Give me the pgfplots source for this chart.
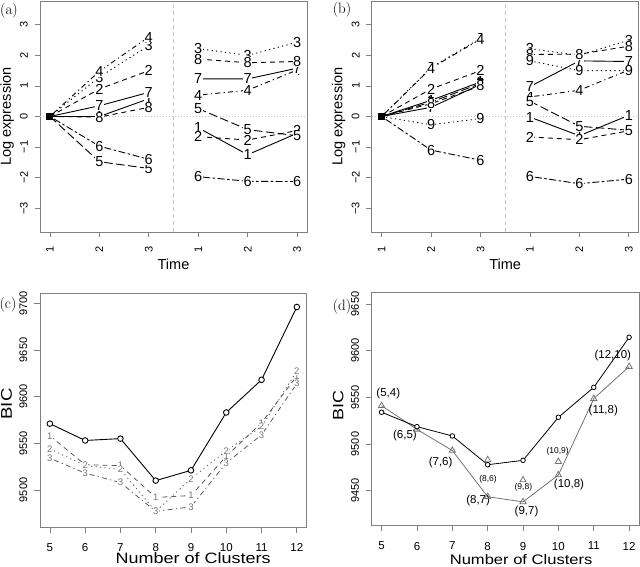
\documentclass[border=0pt]{standalone}
\usepackage{pgfplots}
\pgfplotsset{compat=1.18}
\usepackage{fontspec}
\newfontfamily\rsans{Liberation Sans}
\newfontfamily\rsansw[FakeStretch=1.2]{Liberation Sans}
\definecolor{boxc}{gray}{0.5}
\definecolor{refc}{gray}{0.78}
\pgfplotsset{
  lA/.style={solid},
  lB/.style={dash pattern=on 5pt off 4pt},
  lC/.style={dash pattern=on 1.2pt off 3.3pt},
  lD/.style={dash pattern=on 1.2pt off 3.3pt on 5pt off 3.3pt},
  lE/.style={dash pattern=on 8.5pt off 3.5pt},
  lF/.style={dash pattern=on 2.5pt off 2.5pt on 7pt off 2.5pt},
  rbase/.style={
    scale only axis,
    tick align=outside, tick pos=left,
    major tick length=5.5pt,
    axis line style={draw=boxc, line width=0.7pt},
    every tick/.style={draw=boxc, line width=0.7pt},
    /pgf/number format/assume math mode=true,
    clip=false,
  },
  timeaxis/.style={
    rbase,
    width=267pt, height=231pt,
    xmin=0.8, xmax=6.2, ymin=-3.78, ymax=3.78,
    xtick={1,2,3,4,5,6}, xticklabels={1,2,3,1,2,3},
    ytick={-3,-2,-1,0,1,2,3}, yticklabels={−3,−2,−1,0,1,2,3},
    xticklabel style={rotate=90, anchor=east, inner sep=0pt, font=\rsans\fontsize{11}{11}\selectfont},
    yticklabel style={rotate=90, anchor=south, inner sep=0pt, font=\rsans\fontsize{11}{11}\selectfont},
    xticklabel shift=9pt, yticklabel shift=6.5pt,
    xlabel={Time}, ylabel={Log expression},
    xlabel style={at={(axis description cs:0.5,-0.1385)}, anchor=center, font=\rsans\fontsize{14.5}{14.5}\selectfont},
    ylabel style={at={(axis description cs:-0.1235,0.5)}, anchor=center, font=\rsans\fontsize{14.5}{14.5}\selectfont},
    text mark as node=true,
    text mark style={font=\rsans\fontsize{14.5}{14.5}\selectfont, fill=white, inner sep=0.3pt},
    every axis plot/.append style={line width=0.9pt, black},
  },
  bicaxis/.style={
    rbase,
    xmin=4.72, xmax=12.28,
    xtick={5,6,7,8,9,10,11,12},
    xticklabel style={anchor=north, inner sep=0pt, font=\rsans\fontsize{11.5}{11.5}\selectfont},
    yticklabel style={rotate=90, anchor=south, inner sep=0pt, font=\rsans\fontsize{11}{11}\selectfont},
    xticklabel shift=10.5pt, yticklabel shift=6.5pt,
    major tick length=6pt,
    xlabel={Number of Clusters}, ylabel={BIC},
  },
}
\begin{document}
\begin{tikzpicture}
\path[use as bounding box] (0,0) rectangle (640pt,567pt);

% ---------------- (a) ----------------
\begin{axis}[timeaxis, at={(40pt,335pt)}, anchor=south west]
\addplot[refc, line width=0.6pt, dash pattern=on 1pt off 2pt] coordinates {(0.8,0) (6.2,0)};
\addplot[refc, line width=0.6pt, dash pattern=on 4pt off 3pt] coordinates {(3.5,-3.78) (3.5,3.78)};
% left block
\addplot[lA, mark=text, text mark={1}, mark indices={2,3}] coordinates {(1,0) (2,0.0) (3,0.58)};
\addplot[lB, mark=text, text mark={2}, mark indices={2,3}] coordinates {(1,0) (2,0.9) (3,1.5)};
\addplot[lC, mark=text, text mark={3}, mark indices={2,3}] coordinates {(1,0) (2,1.29) (3,2.32)};
\addplot[lD, mark=text, text mark={4}, mark indices={2,3}] coordinates {(1,0) (2,1.48) (3,2.6)};
\addplot[lE, mark=text, text mark={5}, mark indices={2,3}] coordinates {(1,0) (2,-1.48) (3,-1.7)};
\addplot[lF, mark=text, text mark={6}, mark indices={2,3}] coordinates {(1,0) (2,-0.97) (3,-1.4)};
\addplot[lA, mark=text, text mark={7}, mark indices={2,3}] coordinates {(1,0) (2,0.35) (3,0.79)};
\addplot[lB, mark=text, text mark={8}, mark indices={2,3}] coordinates {(1,0) (2,-0.02) (3,0.3)};
\addplot[only marks, mark=square*, mark size=3pt] coordinates {(1,0)};
% right block
\addplot[lA, mark=text, text mark={1}] coordinates {(4,-0.37) (5,-1.25) (6,-0.55)};
\addplot[lB, mark=text, text mark={2}] coordinates {(4,-0.66) (5,-0.77) (6,-0.46)};
\addplot[lC, mark=text, text mark={3}] coordinates {(4,2.22) (5,2.0) (6,2.43)};
\addplot[lD, mark=text, text mark={4}] coordinates {(4,0.7) (5,0.86) (6,1.52)};
\addplot[lE, mark=text, text mark={5}] coordinates {(4,0.26) (5,-0.43) (6,-0.63)};
\addplot[lF, mark=text, text mark={6}] coordinates {(4,-1.97) (5,-2.12) (6,-2.13)};
\addplot[lA, mark=text, text mark={7}] coordinates {(4,1.23) (5,1.23) (6,1.58)};
\addplot[lB, mark=text, text mark={8}] coordinates {(4,1.88) (5,1.76) (6,1.8)};
\end{axis}

% ---------------- (b) ----------------
\begin{axis}[timeaxis, at={(371.7pt,335pt)}, anchor=south west]
\addplot[refc, line width=0.6pt, dash pattern=on 1pt off 2pt] coordinates {(0.8,0) (6.2,0)};
\addplot[refc, line width=0.6pt, dash pattern=on 4pt off 3pt] coordinates {(3.5,-3.78) (3.5,3.78)};
% left block
\addplot[lA, mark=text, text mark={1}, mark indices={2,3}] coordinates {(1,0) (2,0.53) (3,1.13)};
\addplot[lB, mark=text, text mark={2}, mark indices={2,3}] coordinates {(1,0) (2,0.9) (3,1.5)};
\addplot[lC, mark=text, text mark={3}, mark indices={2,3}] coordinates {(1,0) (2,1.6) (3,2.56)};
\addplot[lD, mark=text, text mark={4}, mark indices={2,3}] coordinates {(1,0) (2,1.58) (3,2.53)};
\addplot[lE, mark=text, text mark={5}, mark indices={2,3}] coordinates {(1,0) (2,0.47) (3,1.08)};
\addplot[lF, mark=text, text mark={6}, mark indices={2,3}] coordinates {(1,0) (2,-1.1) (3,-1.43)};
\addplot[lA, mark=text, text mark={7}, mark indices={2,3}] coordinates {(1,0) (2,0.3) (3,1.05)};
\addplot[lB, mark=text, text mark={8}, mark indices={2,3}] coordinates {(1,0) (2,0.42) (3,1.0)};
\addplot[lC, mark=text, text mark={9}, mark indices={2,3}] coordinates {(1,0) (2,-0.27) (3,-0.07)};
\addplot[only marks, mark=square*, mark size=3pt] coordinates {(1,0)};
% right block
\addplot[lA, mark=text, text mark={1}] coordinates {(4,-0.02) (5,-0.63) (6,0.04)};
\addplot[lB, mark=text, text mark={2}] coordinates {(4,-0.67) (5,-0.76) (6,-0.47)};
\addplot[lC, mark=text, text mark={3}] coordinates {(4,2.22) (5,2.0) (6,2.5)};
\addplot[lD, mark=text, text mark={4}] coordinates {(4,0.64) (5,0.86) (6,1.52)};
\addplot[lE, mark=text, text mark={5}] coordinates {(4,0.5) (5,-0.32) (6,-0.45)};
\addplot[lF, mark=text, text mark={6}] coordinates {(4,-1.96) (5,-2.2) (6,-2.05)};
\addplot[lA, mark=text, text mark={7}] coordinates {(4,0.98) (5,1.82) (6,1.8)};
\addplot[lB, mark=text, text mark={8}] coordinates {(4,2.03) (5,2.04) (6,2.3)};
\addplot[lC, mark=text, text mark={9}] coordinates {(4,1.82) (5,1.5) (6,1.5)};
\end{axis}

% ---------------- (c) ----------------
\begin{axis}[bicaxis, at={(40pt,40pt)}, anchor=south west,
  width=266.7pt, height=234pt,
  ymin=9460.3, ymax=9711,
  ytick={9500,9550,9600,9650,9700}, yticklabels={9500,9550,9600,9650,9700},
  xlabel style={at={(axis description cs:0.574,-0.158)}, anchor=base, font=\rsansw\fontsize{15}{15}\selectfont},
  ylabel style={at={(axis description cs:-0.125,0.526)}, anchor=center, font=\rsansw\fontsize{15.5}{15.5}\selectfont},
  text mark as node=true,
  text mark style={font=\rsans\fontsize{9.5}{9.5}\selectfont, text=black!55, fill=white, inner sep=0.3pt},
]
\addplot[black!65, line width=0.8pt, lB, mark=text, text mark={1}] coordinates {(5,9558) (6,9527) (7,9526) (8,9492) (9,9494) (10,9536) (11,9572) (12,9622)};
\addplot[black!65, line width=0.8pt, lC, mark=text, text mark={2}] coordinates {(5,9544) (6,9526) (7,9522) (8,9477) (9,9512) (10,9542) (11,9568) (12,9627)};
\addplot[black!65, line width=0.8pt, lD, mark=text, text mark={3}] coordinates {(5,9534) (6,9518) (7,9508) (8,9477) (9,9482) (10,9529) (11,9559) (12,9614)};
\addplot[black, line width=0.9pt, mark=*, mark size=2.8pt, mark options={solid, fill=white, line width=0.9pt}] coordinates {(5,9571) (6,9553) (7,9555) (8,9510) (9,9521) (10,9583) (11,9618) (12,9696)};
\end{axis}

% ---------------- (d) ----------------
\begin{axis}[bicaxis, at={(371.7pt,41.7pt)}, anchor=south west,
  width=267.3pt, height=232.6pt,
  ymin=9412.9, ymax=9662.1,
  ytick={9450,9500,9550,9600,9650}, yticklabels={9450,9500,9550,9600,9650},
  xlabel style={at={(axis description cs:0.559,-0.1664)}, anchor=base, font=\rsansw\fontsize{13.8}{13.8}\selectfont},
  ylabel style={at={(axis description cs:-0.125,0.513)}, anchor=center, font=\rsansw\fontsize{15}{15}\selectfont},
]
\addplot[black!55, line width=0.8pt, mark=triangle, mark size=3.6pt, mark options={solid, fill=white, line width=0.8pt}] coordinates {(5,9541) (6,9515.7) (7,9493) (8,9443.5) (9,9438) (10,9466.8) (11,9548.6) (12,9582.9)};
\addplot[black!55, only marks, mark=triangle, mark size=3.6pt, mark options={line width=0.8pt}] coordinates {(8,9483) (9,9461.4) (10,9481)};
\addplot[black, line width=0.8pt, mark=*, mark size=2.3pt, mark options={solid, fill=white, line width=0.8pt}] coordinates {(5,9534) (6,9518.6) (7,9508.6) (8,9477.8) (9,9482.5) (10,9528.6) (11,9560.7) (12,9614.3)};
\begin{scope}[every node/.style={font=\rsans\fontsize{11.5}{11.5}\selectfont, inner sep=0pt}]
\node at (axis cs:5.19,9554.3) {(5,4)};
\node at (axis cs:5.66,9509.3) {(6,5)};
\node at (axis cs:6.67,9480.4) {(7,6)};
\node at (axis cs:7.73,9439) {(8,7)};
\node at (axis cs:9.1,9427.5) {(9,7)};
\node at (axis cs:10.3,9456.8) {(10,8)};
\node at (axis cs:11.27,9535.7) {(11,8)};
\node at (axis cs:11.54,9594.3) {(12,10)};
\end{scope}
\begin{scope}[every node/.style={font=\rsans\fontsize{8.5}{8.5}\selectfont, inner sep=0pt}]
\node at (axis cs:8.01,9462.5) {(8,6)};
\node at (axis cs:9.01,9453.6) {(9,8)};
\node at (axis cs:9.98,9492.5) {(10,9)};
\end{scope}
\end{axis}

% panel letters
\node[font=\fontsize{15}{15}\selectfont, inner sep=0pt] at (9pt,556pt) {(a)};
\node[font=\fontsize{15}{15}\selectfont, inner sep=0pt] at (342pt,557pt) {(b)};
\node[font=\fontsize{15}{15}\selectfont, inner sep=0pt] at (8pt,262pt) {(c)};
\node[font=\fontsize{15}{15}\selectfont, inner sep=0pt] at (342pt,260pt) {(d)};
\end{tikzpicture}
\end{document}
